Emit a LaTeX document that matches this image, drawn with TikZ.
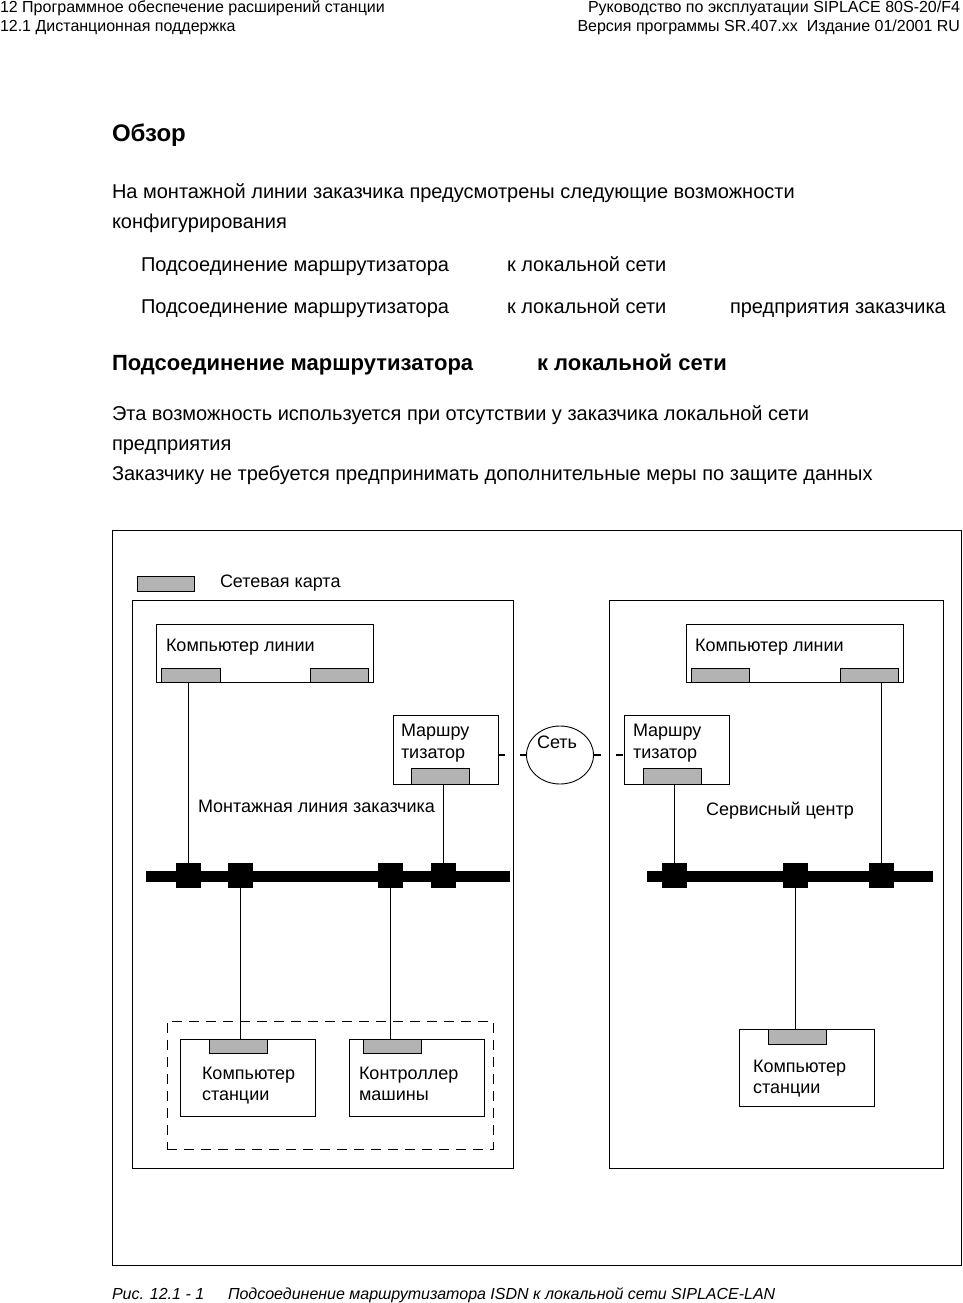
\documentclass[tikz,border=0pt]{standalone}
\usepackage{fontspec}
\setmainfont{Liberation Sans}
\usetikzlibrary{positioning, shapes.geometric, calc}
\definecolor{cardgray}{RGB}{179,179,179}

\begin{document}
\begin{tikzpicture}[
  x=1pt, y=-1pt,
  every node/.style={inner sep=0pt, outer sep=0pt},
  hdrtxt/.style={font=\fontsize{16}{16}\selectfont},
  bodytxt/.style={anchor=base west, font=\fontsize{20}{20}\selectfont},
  headtxt/.style={anchor=base west, font=\fontsize{22}{22}\selectfont\bfseries},
  titletxt/.style={anchor=base west, font=\fontsize{24}{24}\selectfont\bfseries},
  dtxt/.style={anchor=base west, font=\fontsize{18}{18}\selectfont},
  captxt/.style={anchor=base west, font=\fontsize{16}{16}\selectfont\itshape},
  frame/.style={draw, line width=1pt, anchor=north west},
  unitbox/.style={draw, line width=0.9pt, anchor=north west, fill=white},
  nic/.style={draw, line width=0.9pt, anchor=north west, fill=cardgray},
  grpbox/.style={draw, line width=0.9pt, anchor=north west, dash pattern=on 10pt off 7pt},
  netcloud/.style={draw, ellipse, line width=0.9pt},
  bus/.style={line width=11pt},
  tap/.style={fill=black, minimum size=25pt},
  wire/.style={line width=0.9pt},
  netlink/.style={line width=1.4pt, dash pattern=on 7pt off 15pt},
]
\useasboundingbox (0,0) rectangle (962,1303);

%% ---- page header ----
\node[hdrtxt, anchor=base west] (hdrL1) at (0,13) {12 Программное обеспечение расширений станции};
\node[hdrtxt, anchor=base west] (hdrL2) at (0,32) {12.1 Дистанционная поддержка};
\node[hdrtxt, anchor=base east] (hdrR1) at (960,13) {Руководство по эксплуатации SIPLACE 80S-20/F4};
\node[hdrtxt, anchor=base east] (hdrR2) at (960,32) {Версия программы SR.407.xx\ \ Издание 01/2001 RU};

%% ---- text ----
\node[titletxt] (title) at (112,142) {Обзор};
\node[bodytxt] (intro1) at (112,198) {На монтажной линии заказчика предусмотрены следующие возможности};
\node[bodytxt] (intro2) at (112,228) {конфигурирования};
\node[bodytxt] (optA1) at (141,271) {Подсоединение маршрутизатора};
\node[bodytxt] (optA2) at (507,271) {к локальной сети};
\node[bodytxt] (optB1) at (141,313) {Подсоединение маршрутизатора};
\node[bodytxt] (optB2) at (507,313) {к локальной сети};
\node[bodytxt] (optB3) at (730,313) {предприятия заказчика};
\node[headtxt] (sect1) at (112,370) {Подсоединение маршрутизатора};
\node[headtxt] (sect2) at (537,370) {к локальной сети};
\node[bodytxt] (para1) at (112,420) {Эта возможность используется при отсутствии у заказчика локальной сети};
\node[bodytxt] (para2) at (112,450) {предприятия};
\node[bodytxt] (para3) at (112,480) {Заказчику не требуется предпринимать дополнительные меры по защите данных};

%% ---- figure frame and legend ----
\node[frame, minimum width=849pt, minimum height=735pt] (fig) at (112,530) {};
\node[nic, minimum width=57pt, minimum height=15pt] (legcard) at (137,576) {};
\node[dtxt] (legtxt) at (220,587) {Сетевая карта};

%% ---- customer line (left) ----
\node[frame, line width=0.9pt, minimum width=381pt, minimum height=568pt] (lineA) at (132,600) {};
\node[unitbox, minimum width=217pt, minimum height=58pt] (lcA) at (156,624) {};
\node[nic, minimum width=59pt, minimum height=14pt] (lcA1) at (161,668) {};
\node[nic, minimum width=58pt, minimum height=14pt] (lcA2) at (310,668) {};
\node[dtxt] (lcAtxt) at (166,651) {Компьютер линии};
\node[unitbox, minimum width=105pt, minimum height=69pt] (rtA) at (393,715) {};
\node[nic, minimum width=58pt, minimum height=16pt] (rtA1) at (411,768) {};
\node[dtxt] (rtAtxt1) at (401,736) {Маршру};
\node[dtxt] (rtAtxt2) at (401,758) {тизатор};
\node[dtxt] (lineAtxt) at (198,812) {Монтажная линия заказчика};

\node[grpbox, minimum width=326pt, minimum height=128pt] (grp) at (167,1021) {};
\node[unitbox, minimum width=135pt, minimum height=77pt] (scA) at (180,1039) {};
\node[nic, minimum width=58pt, minimum height=14pt] (scA1) at (209,1039) {};
\node[dtxt] (scAtxt1) at (202,1079) {Компьютер};
\node[dtxt] (scAtxt2) at (202,1100) {станции};
\node[unitbox, minimum width=135pt, minimum height=77pt] (mcA) at (349,1039) {};
\node[nic, minimum width=58pt, minimum height=14pt] (mcA1) at (363,1039) {};
\node[dtxt] (mcAtxt1) at (359,1079) {Контроллер};
\node[dtxt] (mcAtxt2) at (359,1100) {машины};

%% bus A
\coordinate (busAw) at (146,876);
\coordinate (busAe) at (510,876);
\draw[bus] (busAw) -- (busAe);
\node[tap] (tA1) at (188,875) {};
\node[tap] (tA2) at (240.5,875) {};
\node[tap] (tA3) at (390.5,875) {};
\node[tap] (tA4) at (443.5,875) {};
\draw[wire] (tA1.center |- lcA1.south) -- (tA1.north);
\draw[wire] (tA4.center |- rtA1.south) -- (tA4.north);
\draw[wire] (tA2.south) -- (tA2.center |- scA1.north);
\draw[wire] (tA3.south) -- (tA3.center |- mcA1.north);

%% ---- network ----
\node[netcloud, minimum width=67pt, minimum height=58pt] (net) at (560,755) {};
\node[dtxt] (nettxt) at (537,748) {Сеть};

%% ---- service centre (right) ----
\node[frame, line width=0.9pt, minimum width=334pt, minimum height=568pt] (lineB) at (609,600) {};
\node[unitbox, minimum width=217pt, minimum height=58pt] (lcB) at (686,624) {};
\node[nic, minimum width=58pt, minimum height=14pt] (lcB1) at (691,668) {};
\node[nic, minimum width=58pt, minimum height=14pt] (lcB2) at (840,668) {};
\node[dtxt] (lcBtxt) at (695,651) {Компьютер линии};
\node[unitbox, minimum width=105pt, minimum height=69pt] (rtB) at (624,715) {};
\node[nic, minimum width=58pt, minimum height=16pt] (rtB1) at (643,768) {};
\node[dtxt] (rtBtxt1) at (633,736) {Маршру};
\node[dtxt] (rtBtxt2) at (633,758) {тизатор};
\node[dtxt] (lineBtxt) at (706,815) {Сервисный центр};
\node[unitbox, minimum width=135pt, minimum height=77pt] (scB) at (739,1029) {};
\node[nic, minimum width=58pt, minimum height=15pt] (scB1) at (768,1029) {};
\node[dtxt] (scBtxt1) at (753,1072) {Компьютер};
\node[dtxt] (scBtxt2) at (753,1093) {станции};

%% bus B
\coordinate (busBw) at (647,876);
\coordinate (busBe) at (933,876);
\draw[bus] (busBw) -- (busBe);
\node[tap] (tB1) at (674.5,875) {};
\node[tap] (tB2) at (795,875) {};
\node[tap] (tB3) at (881,875) {};
\draw[wire] (tB1.center |- rtB1.south) -- (tB1.north);
\draw[wire] (tB3.center |- lcB2.south) -- (tB3.north);
\draw[wire] (tB2.south) -- (tB2.center |- scB1.north);

%% router -- network -- router
\draw[netlink] (rtA.east |- net.west) -- (net.west);
\draw[netlink] (net.east) -- (rtB.west |- net.east);

%% ---- caption ----
\node[captxt] (capnum) at (112,1299) {Рис. 12.1 - 1};
\node[captxt] (captxt) at (228,1299) {Подсоединение маршрутизатора ISDN к локальной сети SIPLACE-LAN};

\end{tikzpicture}
\end{document}
